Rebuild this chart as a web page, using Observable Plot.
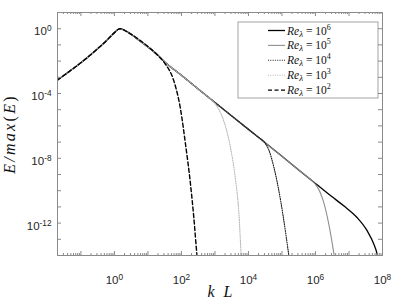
<!DOCTYPE html>
<html><head><meta charset="utf-8">
<script src="https://cdn.jsdelivr.net/npm/d3@7"></script>
<script src="https://cdn.jsdelivr.net/npm/@observablehq/plot@0.6"></script>
<style>html,body{margin:0;padding:0;background:#fff;} #chart{width:399px;height:301px;}</style>
</head><body><div id="chart"></div>
<script>
// ---- data (k L, E/max(E)) ----
const kShared = [0.02, 0.18, 0.575, 1.02, 1.45, 2.57, 5.6, 17.8, 33, 100, 1e3, 1e4, 1e5, 1e6];
const eShared = [6.8e-4, 0.0214, 0.182, 0.59, 1.0, 0.59, 0.182, 0.028, 8.3e-3, 1.32e-3, 2.8e-5, 6.1e-7, 1.32e-8, 2.8e-10];

const kRe6 = [1e6, 3e6, 7.1e6, 1.74e7, 3.47e7, 5.5e7, 6.9e7, 7.9e7];
const eRe6 = [2.8e-10, 4.5e-11, 1.12e-11, 2.2e-12, 3.4e-13, 5.1e-14, 1.26e-14, 3.2e-15];
const kRe5 = [5e5, 7.9e5, 1.12e6, 1.58e6, 2.5e6, 3.55e6, 4e6];
const eRe5 = [8.9e-10, 4.2e-10, 1.78e-10, 3.9e-11, 8.7e-13, 1.26e-14, 2.5e-15];
const kRe4 = [2e4, 2.9e4, 4e4, 5.75e4, 9.1e4, 1.26e5, 1.58e5, 1.78e5];
const eRe4 = [1.95e-7, 1.05e-7, 3.5e-8, 2.75e-9, 2.5e-11, 3.4e-13, 1.26e-14, 2.5e-15];
const kRe3 = [500, 740, 1120, 1620, 2880, 4070, 5130, 6170, 6600];
const eRe3 = [8.9e-5, 4.6e-5, 1.78e-5, 4e-6, 5e-8, 5.6e-10, 5.6e-12, 8e-15, 2.5e-15];
const kRe2 = [5.6, 10, 20, 33, 59, 93, 132, 186, 234, 295, 316];
const eRe2 = [0.2, 0.08, 0.022, 6.6e-3, 6.2e-4, 1.2e-5, 7.6e-8, 2.6e-10, 2.2e-12, 8e-15, 2.5e-15];

const seriesExp = [6, 5, 4, 3, 2];
const xTickLabels = [1, 1e2, 1e4, 1e6, 1e8];
const yTickLabels = [1e-12, 1e-8, 1e-4, 1];
const xMajorTicks = [0.1, 1, 10, 100, 1e3, 1e4, 1e5, 1e6, 1e7, 1e8];
const yDecadeTicks = [1e-13, 1e-12, 1e-11, 1e-10, 1e-9, 1e-8, 1e-7, 1e-6, 1e-5, 1e-4, 1e-3, 1e-2, 1e-1, 1];

// ---- build tables ----
function build(kT, eT) {
  const rows = [];
  kShared.forEach((k, i) => { if (k < kT[0]) rows.push({k, E: eShared[i]}); });
  kT.forEach((k, i) => rows.push({k, E: eT[i]}));
  return rows;
}
const tails = {6: [kRe6, eRe6], 5: [kRe5, eRe5], 4: [kRe4, eRe4], 3: [kRe3, eRe3], 2: [kRe2, eRe2]};
const styles = {
  6: {stroke: "#000000", strokeWidth: 1.3, dash: null},
  5: {stroke: "#8f8f8f", strokeWidth: 1.1, dash: null},
  4: {stroke: "#1a1a1a", strokeWidth: 1.1, dash: "1,1.3"},
  3: {stroke: "#b8b8b8", strokeWidth: 1.1, dash: "1,1.3"},
  2: {stroke: "#000000", strokeWidth: 1.4, dash: "4,2.5"}
};

const xMinorTicks = [];
for (let e = -2; e < 8; e++) for (let m = 2; m < 10; m++) { const v = m * Math.pow(10, e); if (v > 0.02 && v < 1e8) xMinorTicks.push(v); }

const W = 399, H = 301, mL = 57, mR = 17, mT = 12, mB = 46;
const pW = W - mL - mR, pH = H - mT - mB;
const axisCol = "#8a8a8a";
const fmt = d => "10^" + Math.round(Math.log10(d));

const marks = [];
seriesExp.forEach(s => {
  const st = styles[s];
  marks.push(Plot.line(build(...tails[s]), {x: "k", y: "E", stroke: st.stroke, strokeWidth: st.strokeWidth,
    strokeDasharray: st.dash, curve: "monotone-x", clip: true}));
});
marks.push(
  Plot.frame({stroke: axisCol, strokeWidth: 1}),
  Plot.tickX(xMajorTicks, {x: d => d, stroke: axisCol, insetTop: pH - 4}),
  Plot.tickX(xMajorTicks, {x: d => d, stroke: axisCol, insetBottom: pH - 4}),
  Plot.tickX(xMinorTicks, {x: d => d, stroke: axisCol, insetTop: pH - 2}),
  Plot.tickX(xMinorTicks, {x: d => d, stroke: axisCol, insetBottom: pH - 2}),
  Plot.tickY(yDecadeTicks, {y: d => d, stroke: axisCol, insetRight: pW - 4}),
  Plot.tickY(yDecadeTicks, {y: d => d, stroke: axisCol, insetLeft: pW - 4}),
  Plot.axisX({ticks: xTickLabels, tickSize: 0, tickPadding: 20, tickFormat: fmt, fontSize: 11.5, fill: "#262626"}),
  Plot.axisY({ticks: yTickLabels, tickSize: 0, tickPadding: 6, tickFormat: fmt, fontSize: 11.5, fill: "#262626", dy: 3})
);

const svg = Plot.plot({
  width: W, height: H, marginLeft: mL, marginRight: mR, marginTop: mT, marginBottom: mB,
  style: {fontFamily: "'Liberation Sans', Arial, sans-serif", background: "#fff", overflow: "visible"},
  x: {type: "log", domain: [0.02, 1e8], label: null},
  y: {type: "log", domain: [1e-14, 10], label: null},
  marks
});
document.getElementById("chart").appendChild(svg);

const root = d3.select(svg);
root.selectAll('g[aria-label="x-axis tick label"] text, g[aria-label="y-axis tick label"] text').each(function() {
  const t = d3.select(this);
  const parts = t.text().split("^");
  t.text(parts[0]);
  t.append("tspan").attr("dy", "-0.5em").attr("font-size", "0.72em").text(parts[1]);
});

// axis titles
const serif = "Liberation Serif";
const yl = root.append("text").attr("transform", "translate(14.5,134) rotate(-90)")
  .attr("text-anchor", "middle").style("font-family", serif).attr("font-size", 16)
  .attr("letter-spacing", 2.3).attr("fill", "#111");
yl.append("tspan").attr("font-style", "italic").text("E/max");
yl.append("tspan").text("(");
yl.append("tspan").attr("font-style", "italic").text("E");
yl.append("tspan").text(")");
const xl = root.append("text").attr("x", 220).attr("y", 297).attr("text-anchor", "middle")
  .style("font-family", serif).attr("font-size", 16).attr("font-style", "italic").attr("fill", "#111");
xl.append("tspan").text("k");
xl.append("tspan").attr("dx", 9).text("L");

// legend
const lg = root.append("g");
lg.append("rect").attr("x", 238).attr("y", 22).attr("width", 140).attr("height", 76)
  .attr("fill", "#fff").attr("stroke", "#8c8c8c").attr("stroke-width", 0.8);
seriesExp.forEach((s, i) => {
  const y = 30.5 + i * 14.9, st = styles[s];
  lg.append("line").attr("x1", 268).attr("x2", 285).attr("y1", y).attr("y2", y)
    .attr("stroke", st.stroke).attr("stroke-width", st.strokeWidth)
    .attr("stroke-dasharray", st.dash);
  const t = lg.append("text").attr("x", 287).attr("y", y + 4).attr("text-anchor", "start")
    .style("font-family", serif).attr("font-size", 11.5).attr("fill", "#111");
  t.append("tspan").attr("font-style", "italic").text("Re");
  t.append("tspan").attr("font-style", "italic").attr("font-size", 9).attr("dy", 2).text("λ");
  t.append("tspan").attr("dy", -2).text("\u00a0=\u00a010");
  t.append("tspan").attr("font-size", 8).attr("dy", -5).text(String(s));
});
</script>
</body></html>
